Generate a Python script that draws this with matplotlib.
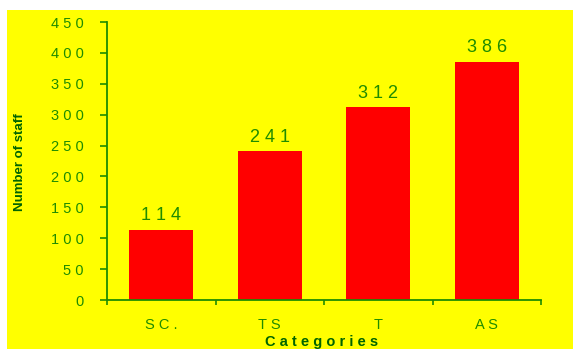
import matplotlib
matplotlib.use('Agg')
import matplotlib.pyplot as plt
from matplotlib.patches import Rectangle

categories = ["SC.", "TS", "T", "AS"]
staff = [114, 241, 312, 386]
y_ticks = [0, 50, 100, 150, 200, 250, 300, 350, 400, 450]

GREEN = "#1f8c00"
DARK_GREEN = "#006400"
W, H = 574, 349


def spaced(s):
    return " ".join(str(s))


def main():
    plt.rcParams['font.family'] = ['Liberation Sans', 'DejaVu Sans']
    fig = plt.figure(figsize=(W / 100, H / 100), dpi=100, facecolor="white")

    # yellow panel behind the plot
    fig.patches.append(Rectangle((7 / W, 0), (W - 8) / W, (H - 10) / H,
                                 transform=fig.transFigure, facecolor="#ffff00",
                                 edgecolor="none", zorder=-10))

    ax = fig.add_axes([107 / W, 49 / H, (541 - 107) / W, (300 - 22) / H])
    ax.set_facecolor("none")

    x = list(range(len(categories)))
    ax.bar(x, staff, width=0.59, color="#ff0000", zorder=2)
    for xi, v in zip(x, staff):
        ax.text(xi, v + 22, spaced(v), ha="center", va="center",
                fontsize=13, color=GREEN)

    ax.set_xlim(-0.5, len(categories) - 0.5)
    ax.set_ylim(0, 450)

    ax.set_yticks(y_ticks)
    ax.set_yticklabels([spaced(t) for t in y_ticks], fontsize=10.5, color=GREEN)
    ax.tick_params(axis="y", length=5, width=1.2, color=GREEN, pad=12)

    ax.set_xticks(x)
    ax.set_xticklabels([spaced(c) for c in categories], fontsize=10.5, color=GREEN)
    ax.tick_params(axis="x", which="major", length=0, pad=13)
    ax.set_xticks([i - 0.5 for i in range(len(categories) + 1)], minor=True)
    ax.tick_params(axis="x", which="minor", length=3.5, width=1.2, color=GREEN)

    for side in ["top", "right"]:
        ax.spines[side].set_visible(False)
    for side in ["left", "bottom"]:
        ax.spines[side].set_color(GREEN)
        ax.spines[side].set_linewidth(1.3)

    fig.text(322 / W, 1 - 342 / H, spaced("Categories"), ha="center", va="center",
             fontsize=10.5, fontweight="bold", color=DARK_GREEN)
    fig.text(20 / W, 1 - 162 / H, "Number of staff", ha="center", va="center",
             rotation=90, fontsize=9.5, fontweight="bold", color=DARK_GREEN)

    plt.savefig("out.png", dpi=100, facecolor="white")
    plt.close()


if __name__ == "__main__":
    main()
